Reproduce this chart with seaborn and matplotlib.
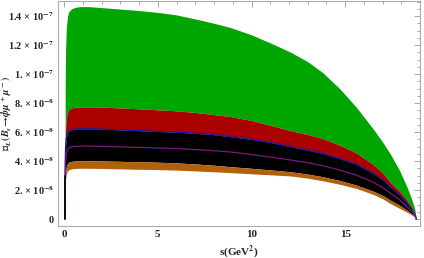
import matplotlib
matplotlib.use("Agg")
import matplotlib.pyplot as plt
import matplotlib.ticker as mticker
import numpy as np
import seaborn as sb

# s grid (GeV^2) and band edges, in units of 1e-8
s_vals = [0.045, 0.06, 0.08, 0.12, 0.18, 0.25, 0.4, 0.6, 0.85, 1.3, 2, 3, 4, 5,
          5.9, 7, 8, 8.9, 10, 11, 12.1, 13, 13.8, 14.7, 15.6, 16.5, 17, 17.4,
          17.9, 18.3, 18.55, 18.7, 18.8]
green_top = [0, 9.5, 11.7, 13.2, 13.95, 14.3, 14.5, 14.6, 14.65, 14.65, 14.58,
             14.48, 14.38, 14.25, 14.1, 13.8, 13.5, 13.2, 12.7, 12.15, 11.5,
             10.85, 10.1, 9.0, 7.7, 6.2, 5.3, 4.5, 3.35, 2.2, 1.35, 0.75, 0]
red_top = [0, 5.0, 6.2, 6.95, 7.35, 7.55, 7.66, 7.71, 7.73, 7.74, 7.72, 7.66,
           7.6, 7.53, 7.47, 7.35, 7.2, 7.06, 6.8, 6.47, 6.09, 5.83, 5.56, 5.1,
           4.55, 3.75, 3.18, 2.55, 1.92, 1.3, 0.82, 0.45, 0]
blue_line = [0, 4.0, 5.0, 5.6, 5.92, 6.07, 6.17, 6.21, 6.23, 6.23, 6.2, 6.15,
             6.1, 6.04, 6.0, 5.92, 5.82, 5.68, 5.5, 5.29, 4.99, 4.75, 4.53,
             4.17, 3.77, 3.15, 2.7, 2.23, 1.68, 1.1, 0.69, 0.38, 0]
purple_line = [0, 3.25, 4.05, 4.53, 4.78, 4.9, 4.98, 5.01, 5.03, 5.03, 5.01,
               4.98, 4.94, 4.9, 4.87, 4.79, 4.71, 4.62, 4.45, 4.28, 4.07, 3.88,
               3.68, 3.38, 3.03, 2.53, 2.17, 1.79, 1.33, 0.85, 0.53, 0.3, 0]
orange_top = [0, 2.6, 3.22, 3.62, 3.82, 3.92, 3.98, 4.0, 4.01, 4.02, 4.01,
              3.98, 3.95, 3.92, 3.88, 3.8, 3.71, 3.61, 3.5, 3.39, 3.26, 3.1,
              2.92, 2.66, 2.34, 1.92, 1.63, 1.31, 0.95, 0.6, 0.36, 0.19, 0]
orange_bot = [0, 2.2, 2.75, 3.1, 3.3, 3.4, 3.46, 3.49, 3.5, 3.5, 3.49, 3.46,
              3.43, 3.41, 3.38, 3.32, 3.26, 3.2, 3.12, 3.05, 2.97, 2.82, 2.64,
              2.4, 2.11, 1.7, 1.4, 1.08, 0.74, 0.47, 0.28, 0.14, 0]

y_ticks = [0, 2e-8, 4e-8, 6e-8, 8e-8, 1e-7, 1.2e-7, 1.4e-7]
y_labels = ["0", "2. × 10$^{\\mathbf{-8}}$", "4. × 10$^{\\mathbf{-8}}$",
            "6. × 10$^{\\mathbf{-8}}$", "8. × 10$^{\\mathbf{-8}}$",
            "1. × 10$^{\\mathbf{-7}}$", "1.2 × 10$^{\\mathbf{-7}}$",
            "1.4 × 10$^{\\mathbf{-7}}$"]
x_ticks = [0, 5, 10, 15]

sb.set_style("white")
plt.rcParams["font.family"] = ["Liberation Serif", "DejaVu Serif"]
plt.rcParams["font.weight"] = "bold"
plt.rcParams["mathtext.fontset"] = "stix"

s = np.array(s_vals)
sc = 1e-8
fig = plt.figure(figsize=(4.24, 2.58), dpi=100)
ax = fig.add_axes([0.137, 0.124, 0.854, 0.874])

ax.fill_between(s, np.array(red_top) * sc, np.array(green_top) * sc, color="#00a600", lw=0)
ax.fill_between(s, np.array(blue_line) * sc, np.array(red_top) * sc, color="#aa0000", lw=0)
ax.fill_between(s, np.array(orange_top) * sc, np.array(blue_line) * sc, color="#000000", lw=0)
ax.fill_between(s, np.array(orange_bot) * sc, np.array(orange_top) * sc, color="#b3600c", lw=0)
sb.lineplot(x=s, y=np.array(blue_line) * sc, ax=ax, color="#1a1aa8", lw=0.9)
sb.lineplot(x=s, y=np.array(purple_line) * sc, ax=ax, color="#7a1a7a", lw=0.9)
ax.plot([0.045, 0.045], [0, 3e-8], color="black", lw=1.2)

ax.set_xlim(-0.32, 19.0)
ax.set_ylim(-0.48e-8, 15.07e-8)
ax.set_xticks(x_ticks)
ax.set_xticklabels([str(t) for t in x_ticks], fontsize=8, fontweight="bold")
ax.set_yticks(y_ticks)
ax.set_yticklabels(y_labels, fontsize=7.5, fontweight="bold")
ax.xaxis.set_minor_locator(mticker.MultipleLocator(1))
ax.yaxis.set_minor_locator(mticker.MultipleLocator(0.5e-8))
ax.tick_params(which="both", direction="in", top=True, right=True,
               color="#999999", width=0.6)
ax.tick_params(which="major", length=4, pad=3)
ax.tick_params(which="minor", length=2)
for sp in ax.spines.values():
    sp.set_color("#aaaaaa")
    sp.set_linewidth(0.8)

ax.set_xlabel("s(GeV$^{\\mathbf{2}}$)", fontsize=8, fontweight="bold")
ax.xaxis.set_label_coords(0.5, -0.075)
ax.set_ylabel(r"$\mathcal{B}_L(B_s\!\rightarrow\!\phi\mu^+\mu^-)$", fontsize=7.5)
ax.yaxis.set_label_coords(-0.122, 0.5)

fig.savefig("out.png", dpi=100)
